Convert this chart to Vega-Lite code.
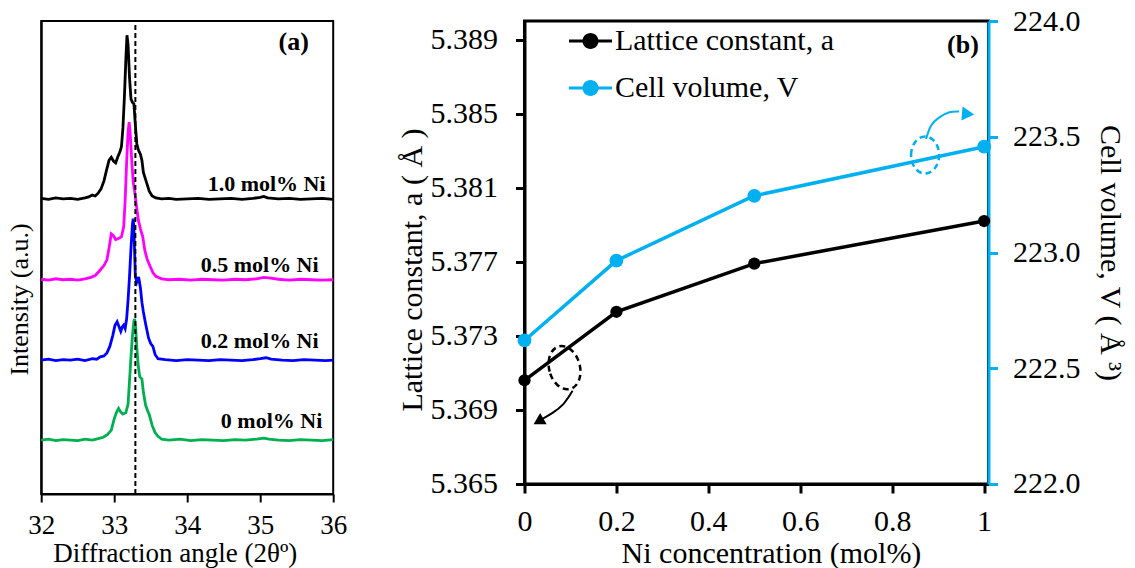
{
  "$schema": "https://vega.github.io/schema/vega-lite/v6.json",
  "background": "white",
  "padding": {"left": 5.2, "top": 4, "right": 5, "bottom": 0},
  "bounds": "flush",
  "spacing": 191.3,
  "resolve": {"scale": {"color": "independent"}, "legend": {"color": "independent"}},
  "config": {
    "font": "Liberation Serif",
    "axis": {"labelFont": "Liberation Serif", "titleFont": "Liberation Serif", "titleFontWeight": "normal", "labelColor": "#000", "titleColor": "#000", "grid": false, "labelFlush": false, "labelOverlap": false, "domainColor": "#000", "tickColor": "#000"},
    "view": {"stroke": "#000"},
    "text": {"font": "Liberation Serif", "color": "#000"}
  },
  "hconcat": [
    {
      "width": 292,
      "height": 473,
      "view": {"stroke": "#000", "strokeWidth": 2},
      "encoding": {
        "x": {"field": "angle", "type": "quantitative", "scale": {"domain": [32, 36], "nice": false, "zero": false},
              "axis": {"values": [32, 33, 34, 35, 36], "title": "Diffraction angle (2θº)", "labelFontSize": 27, "titleFontSize": 27, "tickSize": 8, "tickWidth": 2, "domainWidth": 2, "labelPadding": 10.5, "titleX": 133.5, "titleY": 46.7}},
        "y": {"field": "intensity", "type": "quantitative", "scale": {"domain": [0, 100], "nice": false, "zero": false},
              "axis": {"title": "Intensity (a.u.)", "labels": false, "ticks": false, "domainWidth": 2, "titleFontSize": 26, "titleX": -9, "titleY": 278}}
      },
      "layer": [
        {
          "data": {"values": [
            {"sample":"1.0","angle":32.00,"intensity":62.5},{"sample":"1.0","angle":32.10,"intensity":62.3},{"sample":"1.0","angle":32.20,"intensity":62.6},{"sample":"1.0","angle":32.30,"intensity":62.4},{"sample":"1.0","angle":32.40,"intensity":62.5},{"sample":"1.0","angle":32.50,"intensity":62.3},{"sample":"1.0","angle":32.60,"intensity":62.6},{"sample":"1.0","angle":32.65,"intensity":62.8},{"sample":"1.0","angle":32.70,"intensity":63.2},{"sample":"1.0","angle":32.74,"intensity":63.0},{"sample":"1.0","angle":32.78,"intensity":63.6},{"sample":"1.0","angle":32.82,"intensity":64.5},{"sample":"1.0","angle":32.86,"intensity":66.2},{"sample":"1.0","angle":32.90,"intensity":68.8},{"sample":"1.0","angle":32.93,"intensity":70.6},{"sample":"1.0","angle":32.96,"intensity":71.2},{"sample":"1.0","angle":32.99,"intensity":70.4},{"sample":"1.0","angle":33.02,"intensity":70.0},{"sample":"1.0","angle":33.05,"intensity":71.3},{"sample":"1.0","angle":33.08,"intensity":72.4},{"sample":"1.0","angle":33.10,"intensity":73.5},{"sample":"1.0","angle":33.12,"intensity":77.5},{"sample":"1.0","angle":33.14,"intensity":84.0},{"sample":"1.0","angle":33.16,"intensity":92.0},{"sample":"1.0","angle":33.175,"intensity":97.0},{"sample":"1.0","angle":33.19,"intensity":95.0},{"sample":"1.0","angle":33.21,"intensity":88.0},{"sample":"1.0","angle":33.23,"intensity":83.5},{"sample":"1.0","angle":33.25,"intensity":82.8},{"sample":"1.0","angle":33.27,"intensity":82.5},{"sample":"1.0","angle":33.29,"intensity":78.0},{"sample":"1.0","angle":33.31,"intensity":74.0},{"sample":"1.0","angle":33.33,"intensity":72.8},{"sample":"1.0","angle":33.36,"intensity":71.8},{"sample":"1.0","angle":33.38,"intensity":70.5},{"sample":"1.0","angle":33.40,"intensity":68.0},{"sample":"1.0","angle":33.42,"intensity":67.0},{"sample":"1.0","angle":33.45,"intensity":65.5},{"sample":"1.0","angle":33.48,"intensity":64.0},{"sample":"1.0","angle":33.52,"intensity":63.0},{"sample":"1.0","angle":33.57,"intensity":62.6},{"sample":"1.0","angle":33.65,"intensity":62.4},{"sample":"1.0","angle":33.75,"intensity":62.5},{"sample":"1.0","angle":33.85,"intensity":62.3},{"sample":"1.0","angle":34.00,"intensity":62.4},{"sample":"1.0","angle":34.15,"intensity":62.5},{"sample":"1.0","angle":34.30,"intensity":62.3},{"sample":"1.0","angle":34.45,"intensity":62.4},{"sample":"1.0","angle":34.60,"intensity":62.5},{"sample":"1.0","angle":34.75,"intensity":62.3},{"sample":"1.0","angle":34.90,"intensity":62.5},{"sample":"1.0","angle":35.00,"intensity":62.7},{"sample":"1.0","angle":35.05,"intensity":62.9},{"sample":"1.0","angle":35.10,"intensity":62.6},{"sample":"1.0","angle":35.25,"intensity":62.4},{"sample":"1.0","angle":35.40,"intensity":62.5},{"sample":"1.0","angle":35.55,"intensity":62.3},{"sample":"1.0","angle":35.70,"intensity":62.4},{"sample":"1.0","angle":35.85,"intensity":62.5},{"sample":"1.0","angle":36.00,"intensity":62.3},
            {"sample":"0.5","angle":32.00,"intensity":45.4},{"sample":"0.5","angle":32.10,"intensity":45.2},{"sample":"0.5","angle":32.20,"intensity":45.5},{"sample":"0.5","angle":32.30,"intensity":45.3},{"sample":"0.5","angle":32.40,"intensity":45.4},{"sample":"0.5","angle":32.50,"intensity":45.2},{"sample":"0.5","angle":32.60,"intensity":45.5},{"sample":"0.5","angle":32.68,"intensity":45.8},{"sample":"0.5","angle":32.74,"intensity":46.2},{"sample":"0.5","angle":32.80,"intensity":47.2},{"sample":"0.5","angle":32.86,"intensity":48.3},{"sample":"0.5","angle":32.90,"intensity":49.5},{"sample":"0.5","angle":32.93,"intensity":52.0},{"sample":"0.5","angle":32.96,"intensity":55.0},{"sample":"0.5","angle":32.99,"intensity":54.6},{"sample":"0.5","angle":33.02,"intensity":53.8},{"sample":"0.5","angle":33.06,"intensity":54.0},{"sample":"0.5","angle":33.10,"intensity":54.4},{"sample":"0.5","angle":33.13,"intensity":56.5},{"sample":"0.5","angle":33.15,"intensity":62.0},{"sample":"0.5","angle":33.17,"intensity":70.0},{"sample":"0.5","angle":33.19,"intensity":76.5},{"sample":"0.5","angle":33.205,"intensity":78.6},{"sample":"0.5","angle":33.22,"intensity":76.0},{"sample":"0.5","angle":33.24,"intensity":70.5},{"sample":"0.5","angle":33.26,"intensity":66.0},{"sample":"0.5","angle":33.28,"intensity":64.0},{"sample":"0.5","angle":33.30,"intensity":61.5},{"sample":"0.5","angle":33.33,"intensity":58.0},{"sample":"0.5","angle":33.36,"intensity":56.0},{"sample":"0.5","angle":33.39,"intensity":54.5},{"sample":"0.5","angle":33.42,"intensity":51.5},{"sample":"0.5","angle":33.45,"intensity":49.7},{"sample":"0.5","angle":33.49,"intensity":48.2},{"sample":"0.5","angle":33.53,"intensity":46.8},{"sample":"0.5","angle":33.57,"intensity":46.0},{"sample":"0.5","angle":33.65,"intensity":45.5},{"sample":"0.5","angle":33.75,"intensity":45.3},{"sample":"0.5","angle":33.90,"intensity":45.4},{"sample":"0.5","angle":34.05,"intensity":45.2},{"sample":"0.5","angle":34.20,"intensity":45.4},{"sample":"0.5","angle":34.35,"intensity":45.3},{"sample":"0.5","angle":34.50,"intensity":45.2},{"sample":"0.5","angle":34.65,"intensity":45.4},{"sample":"0.5","angle":34.80,"intensity":45.3},{"sample":"0.5","angle":34.95,"intensity":45.5},{"sample":"0.5","angle":35.05,"intensity":45.8},{"sample":"0.5","angle":35.12,"intensity":45.7},{"sample":"0.5","angle":35.25,"intensity":45.4},{"sample":"0.5","angle":35.40,"intensity":45.2},{"sample":"0.5","angle":35.55,"intensity":45.4},{"sample":"0.5","angle":35.70,"intensity":45.3},{"sample":"0.5","angle":35.85,"intensity":45.2},{"sample":"0.5","angle":36.00,"intensity":45.3},
            {"sample":"0.2","angle":32.00,"intensity":28.3},{"sample":"0.2","angle":32.10,"intensity":28.5},{"sample":"0.2","angle":32.20,"intensity":28.2},{"sample":"0.2","angle":32.30,"intensity":28.4},{"sample":"0.2","angle":32.40,"intensity":28.3},{"sample":"0.2","angle":32.50,"intensity":28.5},{"sample":"0.2","angle":32.60,"intensity":28.2},{"sample":"0.2","angle":32.70,"intensity":28.6},{"sample":"0.2","angle":32.76,"intensity":28.5},{"sample":"0.2","angle":32.81,"intensity":29.0},{"sample":"0.2","angle":32.86,"intensity":29.2},{"sample":"0.2","angle":32.90,"intensity":29.8},{"sample":"0.2","angle":32.94,"intensity":31.2},{"sample":"0.2","angle":32.98,"intensity":33.5},{"sample":"0.2","angle":33.01,"intensity":35.6},{"sample":"0.2","angle":33.04,"intensity":36.4},{"sample":"0.2","angle":33.07,"intensity":35.2},{"sample":"0.2","angle":33.09,"intensity":34.4},{"sample":"0.2","angle":33.11,"intensity":35.3},{"sample":"0.2","angle":33.13,"intensity":35.7},{"sample":"0.2","angle":33.15,"intensity":35.0},{"sample":"0.2","angle":33.17,"intensity":37.0},{"sample":"0.2","angle":33.19,"intensity":41.0},{"sample":"0.2","angle":33.21,"intensity":46.0},{"sample":"0.2","angle":33.23,"intensity":52.0},{"sample":"0.2","angle":33.25,"intensity":57.0},{"sample":"0.2","angle":33.26,"intensity":58.2},{"sample":"0.2","angle":33.27,"intensity":56.0},{"sample":"0.2","angle":33.29,"intensity":46.0},{"sample":"0.2","angle":33.31,"intensity":44.8},{"sample":"0.2","angle":33.335,"intensity":45.9},{"sample":"0.2","angle":33.36,"intensity":43.5},{"sample":"0.2","angle":33.38,"intensity":40.5},{"sample":"0.2","angle":33.40,"intensity":38.5},{"sample":"0.2","angle":33.43,"intensity":36.0},{"sample":"0.2","angle":33.45,"intensity":34.5},{"sample":"0.2","angle":33.47,"intensity":33.0},{"sample":"0.2","angle":33.50,"intensity":31.8},{"sample":"0.2","angle":33.53,"intensity":31.2},{"sample":"0.2","angle":33.56,"intensity":29.5},{"sample":"0.2","angle":33.60,"intensity":28.6},{"sample":"0.2","angle":33.70,"intensity":28.4},{"sample":"0.2","angle":33.85,"intensity":28.2},{"sample":"0.2","angle":34.00,"intensity":28.4},{"sample":"0.2","angle":34.15,"intensity":28.3},{"sample":"0.2","angle":34.30,"intensity":28.2},{"sample":"0.2","angle":34.45,"intensity":28.4},{"sample":"0.2","angle":34.60,"intensity":28.3},{"sample":"0.2","angle":34.75,"intensity":28.2},{"sample":"0.2","angle":34.90,"intensity":28.4},{"sample":"0.2","angle":35.00,"intensity":28.6},{"sample":"0.2","angle":35.08,"intensity":28.8},{"sample":"0.2","angle":35.15,"intensity":28.5},{"sample":"0.2","angle":35.30,"intensity":28.3},{"sample":"0.2","angle":35.45,"intensity":28.2},{"sample":"0.2","angle":35.60,"intensity":28.4},{"sample":"0.2","angle":35.75,"intensity":28.3},{"sample":"0.2","angle":35.90,"intensity":28.2},{"sample":"0.2","angle":36.00,"intensity":28.3},
            {"sample":"0","angle":32.00,"intensity":11.4},{"sample":"0","angle":32.10,"intensity":11.6},{"sample":"0","angle":32.20,"intensity":11.3},{"sample":"0","angle":32.30,"intensity":11.5},{"sample":"0","angle":32.40,"intensity":11.4},{"sample":"0","angle":32.50,"intensity":11.3},{"sample":"0","angle":32.60,"intensity":11.6},{"sample":"0","angle":32.70,"intensity":11.4},{"sample":"0","angle":32.78,"intensity":11.7},{"sample":"0","angle":32.85,"intensity":12.0},{"sample":"0","angle":32.91,"intensity":12.6},{"sample":"0","angle":32.96,"intensity":13.5},{"sample":"0","angle":33.00,"intensity":15.9},{"sample":"0","angle":33.03,"intensity":17.2},{"sample":"0","angle":33.06,"intensity":18.1},{"sample":"0","angle":33.09,"intensity":17.3},{"sample":"0","angle":33.12,"intensity":16.9},{"sample":"0","angle":33.16,"intensity":17.2},{"sample":"0","angle":33.19,"intensity":19.0},{"sample":"0","angle":33.21,"intensity":24.0},{"sample":"0","angle":33.23,"intensity":29.0},{"sample":"0","angle":33.25,"intensity":33.5},{"sample":"0","angle":33.27,"intensity":36.5},{"sample":"0","angle":33.28,"intensity":37.0},{"sample":"0","angle":33.295,"intensity":35.0},{"sample":"0","angle":33.31,"intensity":31.0},{"sample":"0","angle":33.33,"intensity":27.0},{"sample":"0","angle":33.35,"intensity":24.8},{"sample":"0","angle":33.38,"intensity":24.3},{"sample":"0","angle":33.40,"intensity":21.5},{"sample":"0","angle":33.43,"intensity":18.8},{"sample":"0","angle":33.46,"intensity":17.5},{"sample":"0","angle":33.48,"intensity":16.8},{"sample":"0","angle":33.52,"intensity":14.5},{"sample":"0","angle":33.56,"intensity":13.0},{"sample":"0","angle":33.60,"intensity":12.2},{"sample":"0","angle":33.65,"intensity":11.6},{"sample":"0","angle":33.75,"intensity":11.4},{"sample":"0","angle":33.90,"intensity":11.6},{"sample":"0","angle":34.05,"intensity":11.3},{"sample":"0","angle":34.20,"intensity":11.5},{"sample":"0","angle":34.35,"intensity":11.4},{"sample":"0","angle":34.50,"intensity":11.3},{"sample":"0","angle":34.65,"intensity":11.5},{"sample":"0","angle":34.80,"intensity":11.4},{"sample":"0","angle":34.95,"intensity":11.6},{"sample":"0","angle":35.05,"intensity":11.8},{"sample":"0","angle":35.12,"intensity":11.6},{"sample":"0","angle":35.25,"intensity":11.4},{"sample":"0","angle":35.40,"intensity":11.3},{"sample":"0","angle":35.55,"intensity":11.5},{"sample":"0","angle":35.70,"intensity":11.4},{"sample":"0","angle":35.85,"intensity":11.3},{"sample":"0","angle":36.00,"intensity":11.5}
          ]},
          "mark": {"type": "line", "strokeWidth": 2.8},
          "encoding": {
            "color": {"field": "sample", "type": "nominal", "scale": {"domain": ["1.0", "0.5", "0.2", "0"], "range": ["#000000", "#FF00FF", "#0000FF", "#00B050"]}, "legend": null}
          }
        },
        {
          "data": {"values": [{"angle": 33.29, "intensity": 0}, {"angle": 33.29, "intensity": 100}]},
          "mark": {"type": "line", "strokeDash": [5, 3], "strokeWidth": 2, "color": "#000"},
          "encoding": {}
        },
        {
          "data": {"values": [
            {"label": "1.0 mol% Ni", "angle": 35.895, "intensity": 65.5},
            {"label": "0.5 mol% Ni", "angle": 35.80, "intensity": 48.4},
            {"label": "0.2 mol% Ni", "angle": 35.80, "intensity": 32.3},
            {"label": "0 mol% Ni", "angle": 35.85, "intensity": 15.4}
          ]},
          "mark": {"type": "text", "fontSize": 22, "fontWeight": "bold", "align": "right", "baseline": "middle", "font": "Liberation Serif"},
          "encoding": {"text": {"field": "label"}}
        },
        {
          "data": {"values": [{"angle": 35.46, "intensity": 95.5}]},
          "mark": {"type": "text", "text": "(a)", "fontSize": 26, "fontWeight": "bold", "align": "center", "baseline": "middle", "font": "Liberation Serif"},
          "encoding": {}
        }
      ]
    },
    {
      "width": 464,
      "height": 463,
      "view": {"stroke": "#000", "strokeWidth": 3},
      "layer": [
        {
          "encoding": {
            "x": {"field": "conc", "type": "quantitative", "scale": {"domain": [0, 1.0095], "nice": false, "zero": false},
                  "axis": {"values": [0, 0.2, 0.4, 0.6, 0.8, 1], "format": "~g", "title": "Ni concentration (mol%)", "labelFontSize": 30, "titleFontSize": 30, "tickSize": 9, "tickWidth": 3, "domainWidth": 3, "labelPadding": 14, "titleX": 246.5, "titleY": 54.3}},
            "y": {"field": "a", "type": "quantitative", "scale": {"domain": [5.365, 5.390], "nice": false, "zero": false},
                  "axis": {"values": [5.365, 5.369, 5.373, 5.377, 5.381, 5.385, 5.389], "format": ".3f", "title": "Lattice constant, a ( Å )", "labelFontSize": 30, "titleFontSize": 30, "tickSize": 9, "tickWidth": 3, "domainWidth": 3, "labelPadding": 18, "titleX": -96.7, "titleY": 248.5}}
          },
          "layer": [
            {
              "data": {"values": [{"conc": 0, "a": 5.3706}, {"conc": 0.2, "a": 5.3743}, {"conc": 0.5, "a": 5.3769}, {"conc": 1.0, "a": 5.3792}]},
              "mark": {"type": "line", "color": "#000000", "strokeWidth": 3.5},
              "encoding": {}
            },
            {
              "data": {"values": [{"conc": 0, "a": 5.3706}, {"conc": 0.2, "a": 5.3743}, {"conc": 0.5, "a": 5.3769}, {"conc": 1.0, "a": 5.3792}]},
              "mark": {"type": "point", "filled": true, "opacity": 1, "size": 150},
              "encoding": {
                "color": {"datum": "Lattice constant, a", "type": "nominal",
                          "scale": {"domain": ["Lattice constant, a", "Cell volume, V"], "range": ["#000000", "#00B0F0"]},
                          "legend": {"orient": "none", "legendX": 44.5, "legendY": -1.5, "title": null, "padding": 0,
                                     "symbolType": "M-1,-0.07L1,-0.07L1,0.07L-1,0.07Z M-0.372,0A0.372,0.372,0,1,1,0.372,0A0.372,0.372,0,1,1,-0.372,0Z",
                                     "symbolSize": 1849, "symbolStrokeWidth": 0, "symbolOpacity": 1,
                                     "labelFont": "Liberation Serif", "labelFontSize": 30, "labelColor": "#000", "labelLimit": 500, "labelOffset": 3, "rowPadding": 10}}
              }
            },
            {
              "data": {"values": [{"conc": 0.0871, "a": 5.37128}]},
              "mark": {"type": "point", "shape": "M-0.7,0A0.7,1,0,1,1,0.7,0A0.7,1,0,1,1,-0.7,0Z", "filled": false, "color": "#000", "strokeWidth": 2.5, "strokeDash": [6, 4], "size": 1936, "angle": -15, "opacity": 1},
              "encoding": {}
            },
            {
              "data": {"values": [{"conc": 0.1046, "a": 5.37003}, {"conc": 0.085, "a": 5.36933}, {"conc": 0.061, "a": 5.36884}, {"conc": 0.0392, "a": 5.36852}]},
              "mark": {"type": "line", "color": "#000", "strokeWidth": 2, "interpolate": "natural"},
              "encoding": {}
            },
            {
              "data": {"values": [{"conc": 0.0305, "a": 5.36838}]},
              "mark": {"type": "point", "shape": "triangle-up", "filled": true, "color": "#000", "size": 170, "angle": 240, "opacity": 1},
              "encoding": {}
            },
            {
              "data": {"values": [{"conc": 0.954, "a": 5.3887}]},
              "mark": {"type": "text", "text": "(b)", "fontSize": 26, "fontWeight": "bold", "align": "center", "baseline": "middle", "font": "Liberation Serif"},
              "encoding": {}
            }
          ]
        },
        {
          "encoding": {
            "x": {"field": "conc", "type": "quantitative", "scale": {"domain": [0, 1.0095], "nice": false, "zero": false},
                  "axis": {"values": [0, 0.2, 0.4, 0.6, 0.8, 1], "format": "~g", "title": "Ni concentration (mol%)", "labelFontSize": 30, "titleFontSize": 30, "tickSize": 9, "tickWidth": 3, "domainWidth": 3, "labelPadding": 14, "titleX": 246.5, "titleY": 54.3}},
            "y": {"field": "V", "type": "quantitative", "scale": {"domain": [222, 224], "nice": false, "zero": false},
                  "axis": {"orient": "right", "values": [222, 222.5, 223, 223.5, 224], "format": ".1f", "title": "Cell volume, V ( Å ³)", "labelFontSize": 30, "titleFontSize": 30, "tickSize": 9, "tickWidth": 3, "domainWidth": 3, "domainColor": "#00B0F0", "tickColor": "#00B0F0", "labelPadding": 15, "titleX": 106, "titleY": 231.5}}
          },
          "layer": [
            {
              "data": {"values": [{"conc": 0, "V": 222.62}, {"conc": 0.2, "V": 222.965}, {"conc": 0.5, "V": 223.245}, {"conc": 1.0, "V": 223.457}]},
              "mark": {"type": "line", "color": "#00B0F0", "strokeWidth": 3.5},
              "encoding": {}
            },
            {
              "data": {"values": [{"conc": 0, "V": 222.62}, {"conc": 0.2, "V": 222.965}, {"conc": 0.5, "V": 223.245}, {"conc": 1.0, "V": 223.457}]},
              "mark": {"type": "point", "filled": true, "opacity": 1, "size": 190},
              "encoding": {"color": {"datum": "Cell volume, V", "type": "nominal"}}
            },
            {
              "data": {"values": [{"conc": 0.8715, "V": 223.421}]},
              "mark": {"type": "point", "shape": "M-0.757,0A0.757,1,0,1,1,0.757,0A0.757,1,0,1,1,-0.757,0Z", "filled": false, "color": "#00B0F0", "strokeWidth": 2.5, "strokeDash": [6, 4], "size": 1369, "opacity": 1},
              "encoding": {}
            },
            {
              "data": {"values": [{"conc": 0.8736, "V": 223.49}, {"conc": 0.8845, "V": 223.548}, {"conc": 0.9026, "V": 223.584}, {"conc": 0.9244, "V": 223.606}, {"conc": 0.9455, "V": 223.609}]},
              "mark": {"type": "line", "color": "#00B0F0", "strokeWidth": 2, "interpolate": "natural"},
              "encoding": {}
            },
            {
              "data": {"values": [{"conc": 0.9651, "V": 223.598}]},
              "mark": {"type": "point", "shape": "triangle-up", "filled": true, "color": "#00B0F0", "size": 200, "angle": 95, "opacity": 1},
              "encoding": {}
            }
          ]
        }
      ],
      "resolve": {"scale": {"y": "independent"}}
    }
  ]
}
